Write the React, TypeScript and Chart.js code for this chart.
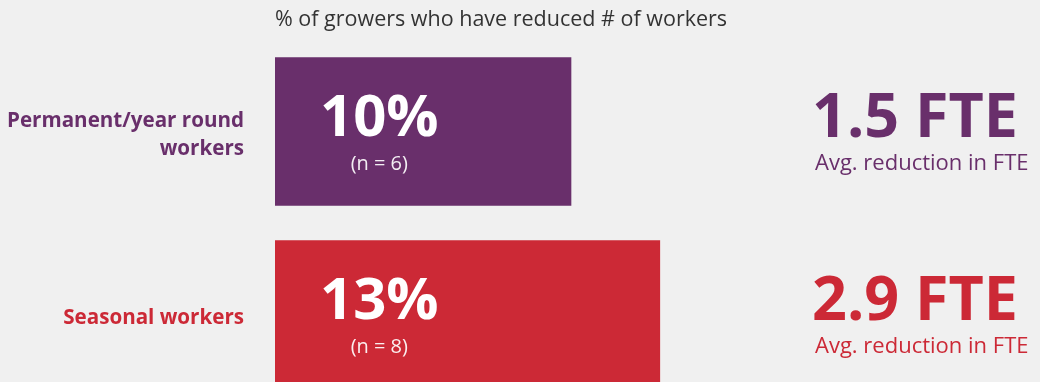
import React, { useEffect, useRef } from "react";
import { Chart, registerables } from "chart.js";

Chart.register(...registerables);

const categories: (string | string[])[] = [["Permanent/year round", "workers"], "Seasonal workers"];
const percentValues = [10, 13];
const sampleSizes = [6, 8];
const fteValues = [1.5, 2.9];
const barColors = ["#692f6b", "#cc2936"];
const chartTitle = "% of growers who have reduced # of workers";
const fteCaption = "Avg. reduction in FTE";

const FONT = "'Open Sans', sans-serif";

const labelPlugin = {
  id: "labelPlugin",
  afterDatasetsDraw(chart: any) {
    const { ctx, chartArea } = chart;
    const meta = chart.getDatasetMeta(0);
    ctx.save();
    // title
    ctx.fillStyle = "#333333";
    ctx.font = `400 21.5px ${FONT}`;
    ctx.textAlign = "left";
    ctx.textBaseline = "alphabetic";
    ctx.fillText(chartTitle, chartArea.left, 26);

    meta.data.forEach((bar: any, i: number) => {
      const left = Math.min(bar.base, bar.x);
      const cy = bar.y;
      // big percentage
      ctx.fillStyle = "#ffffff";
      ctx.font = `700 58px ${FONT}`;
      ctx.textAlign = "left";
      const big = `${percentValues[i]}%`;
      const bigX = left + 45;
      ctx.fillText(big, bigX, cy + 4);
      const w = ctx.measureText(big).width;
      // n label
      ctx.fillStyle = "rgba(255,255,255,0.92)";
      ctx.font = `400 20px ${FONT}`;
      ctx.textAlign = "center";
      ctx.textBaseline = "middle";
      ctx.fillText(`(n = ${sampleSizes[i]})`, bigX + w / 2, cy + 33);
      ctx.textBaseline = "alphabetic";
      // FTE
      ctx.fillStyle = barColors[i];
      ctx.font = `700 61px ${FONT}`;
      ctx.textAlign = "left";
      const fx = chartArea.right - 55;
      ctx.fillText(`${fteValues[i].toFixed(1)} FTE`, fx, cy + 5);
      ctx.font = `400 22px ${FONT}`;
      ctx.textBaseline = "middle";
      ctx.fillText(fteCaption, fx + 3, cy + 32);
      ctx.textBaseline = "alphabetic";
    });
    ctx.restore();
  },
};

export default function App() {
  const ref = useRef<HTMLCanvasElement>(null);
  useEffect(() => {
    document.body.style.margin = "0";
    document.body.style.background = "#f0f0f0";
    if (!ref.current) return;
    const chart = new Chart(ref.current, {
      type: "bar",
      data: {
        labels: categories,
        datasets: [
          {
            data: percentValues,
            backgroundColor: barColors,
            barThickness: 148,
            borderWidth: 0,
          },
        ],
      },
      options: {
        indexAxis: "y",
        animation: false,
        responsive: false,
        maintainAspectRatio: false,
        layout: { padding: { top: 40, right: 173, bottom: 0, left: 0 } },
        plugins: { legend: { display: false }, tooltip: { enabled: false }, title: { display: false } },
        scales: {
          x: { display: false, min: 0, max: 20 },
          y: {
            grid: { display: false, drawTicks: false },
            border: { display: false },
            afterFit: (scale: any) => {
              scale.width = 275;
              scale.paddingTop = 0;
              scale.paddingBottom = 0;
            },
            ticks: {
              padding: 31,
              labelOffset: 4,
              color: (c: any) => barColors[c.index],
              font: { family: FONT, size: 20.6, weight: "bold", lineHeight: "28px" },
            },
          },
        },
      },
      plugins: [labelPlugin],
    } as any);
    return () => chart.destroy();
  }, []);
  return (
    <div style={{ position: "absolute", left: 0, top: 0, width: 1040, height: 382, overflow: "hidden", background: "#f0f0f0" }}>
      <canvas ref={ref} width={1040} height={406} style={{ display: "block", width: 1040, height: 406 }} />
    </div>
  );
}
